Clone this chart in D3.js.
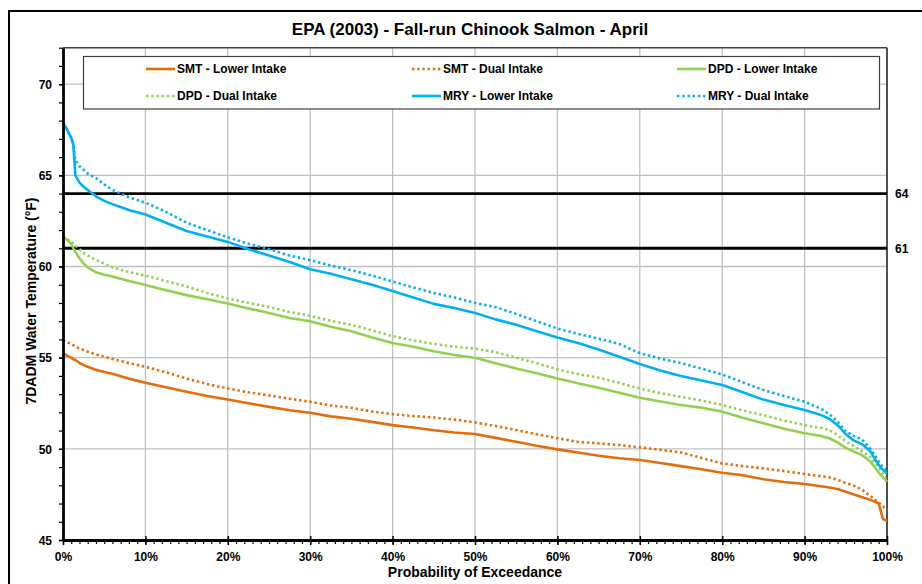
<!DOCTYPE html>
<html>
<head>
<meta charset="utf-8">
<script src="https://cdn.jsdelivr.net/npm/d3@7"></script>
<style>
  html, body { margin: 0; padding: 0; background: #fff; }
  svg text { font-family: "Liberation Sans", Arial, Helvetica, sans-serif; font-weight: bold; fill: #000; }
</style>
</head>
<body>
<svg id="chart" width="922" height="584"></svg>
<script>
// Probability of exceedance (%) shared by every series
const exceedance = [0, 0.5, 1, 1.25, 1.5, 2, 2.5, 3, 4, 5, 6, 8, 10,
  12.5, 15, 17.5, 20, 22.5, 25, 27.5, 30, 32.5, 35, 37.5, 40, 42.5, 45, 47.5, 50,
  52.5, 55, 57.5, 60, 62.5, 65, 67.5, 70, 72.5, 75, 77.5, 80, 82.5, 85, 87.5, 90,
  92, 93, 94, 95, 96, 97, 98, 99, 99.5, 100];

// 7DADM water temperature (°F)
const smtLower = [55.27, 55.1, 55.0, 54.92, 54.87, 54.72, 54.59, 54.5, 54.33, 54.22, 54.12, 53.85, 53.63,
  53.38, 53.13, 52.9, 52.71, 52.5, 52.3, 52.12, 51.98, 51.78, 51.65, 51.48, 51.3, 51.17, 51.02, 50.9, 50.81,
  50.6, 50.39, 50.17, 49.97, 49.8, 49.62, 49.48, 49.39, 49.22, 49.05, 48.88, 48.69, 48.55, 48.33, 48.18, 48.07,
  47.95, 47.88, 47.8, 47.65, 47.5, 47.35, 47.2, 47.0, 46.15, 46.05];
const smtDual = [55.95, 55.85, 55.75, 55.68, 55.62, 55.5, 55.42, 55.33, 55.18, 55.05, 54.93, 54.7, 54.5,
  54.2, 53.85, 53.55, 53.31, 53.1, 52.93, 52.75, 52.58, 52.38, 52.25, 52.05, 51.9, 51.8, 51.72, 51.6, 51.45,
  51.25, 51.03, 50.8, 50.58, 50.38, 50.3, 50.21, 50.08, 49.95, 49.8, 49.5, 49.2, 49.05, 48.93, 48.78, 48.62,
  48.5, 48.43, 48.3, 48.12, 47.98, 47.75, 47.4, 47.05, 46.85, 46.64];
const dpdLower = [61.65, 61.45, 61.25, 61.0, 60.8, 60.45, 60.17, 59.95, 59.68, 59.55, 59.45, 59.2, 58.98,
  58.7, 58.43, 58.2, 57.97, 57.7, 57.45, 57.18, 57.0, 56.7, 56.45, 56.1, 55.8, 55.6, 55.35, 55.15, 55.0,
  54.7, 54.41, 54.15, 53.86, 53.6, 53.35, 53.08, 52.8, 52.6, 52.4, 52.25, 52.04, 51.7, 51.4, 51.1, 50.85,
  50.7, 50.58, 50.35, 50.05, 49.85, 49.65, 49.3, 48.7, 48.45, 48.2];
const dpdDual = [61.65, 61.5, 61.35, 61.25, 61.15, 60.95, 60.75, 60.6, 60.35, 60.15, 59.95, 59.7, 59.5,
  59.2, 58.9, 58.55, 58.25, 58.0, 57.78, 57.5, 57.3, 57.02, 56.8, 56.5, 56.18, 55.95, 55.75, 55.6, 55.5,
  55.3, 55.0, 54.7, 54.36, 54.1, 53.9, 53.62, 53.31, 53.05, 52.85, 52.65, 52.4, 52.1, 51.85, 51.55, 51.3,
  51.15, 51.03, 50.75, 50.4, 50.15, 49.85, 49.55, 49.0, 48.6, 48.29];
const mryLower = [67.9, 67.5, 67.05, 66.7, 65.0, 64.6, 64.37, 64.2, 63.85, 63.6, 63.42, 63.1, 62.85,
  62.4, 61.95, 61.65, 61.35, 60.95, 60.6, 60.25, 59.85, 59.6, 59.3, 59.0, 58.65, 58.3, 57.95, 57.72, 57.45,
  57.1, 56.8, 56.45, 56.1, 55.8, 55.45, 55.05, 54.65, 54.3, 54.0, 53.75, 53.5, 53.1, 52.7, 52.4, 52.13,
  51.85, 51.65, 51.3, 50.8, 50.45, 50.25, 49.85, 49.1, 48.85, 48.65];
const mryDual = [67.9, 67.5, 67.05, 66.7, 65.85, 65.5, 65.3, 65.1, 64.85, 64.5, 64.2, 63.8, 63.5,
  63.0, 62.4, 62.0, 61.6, 61.25, 60.95, 60.6, 60.35, 60.05, 59.8, 59.5, 59.18, 58.85, 58.55, 58.3, 58.0,
  57.77, 57.4, 57.0, 56.6, 56.3, 56.05, 55.75, 55.25, 54.95, 54.7, 54.4, 54.08, 53.65, 53.22, 52.9, 52.58,
  52.2, 51.9, 51.5, 50.95, 50.7, 50.5, 50.0, 49.3, 49.0, 48.75];

// Temperature criteria lines
const thresholds = [64, 61];

// Axis ticks
const yMajorTicks = [45, 50, 55, 60, 65, 70];
const yMinorTicks = d3.range(45, 73, 1);
const xMajorTicks = [0, 10, 20, 30, 40, 50, 60, 70, 80, 90, 100];
const xMinorTicks = d3.range(0, 101, 1);

const seriesNames = ["SMT - Lower Intake", "SMT - Dual Intake", "DPD - Lower Intake",
  "DPD - Dual Intake", "MRY - Lower Intake", "MRY - Dual Intake"];
const seriesValues = [smtLower, smtDual, dpdLower, dpdDual, mryLower, mryDual];
const seriesColors = ["#E46C0A", "#E46C0A", "#92D050", "#92D050", "#00B0F0", "#00B0F0"];
const seriesDotted = [false, true, false, true, false, true];

const svg = d3.select("#chart");
const plot = { left: 63, right: 887, top: 47.7, bottom: 540 };

const x = d3.scaleLinear().domain([0, 100]).range([plot.left, plot.right]);
const y = d3.scaleLinear().domain([45, 72]).range([plot.bottom, plot.top]);

// Outer chart frame
svg.append("rect")
  .attr("x", 9).attr("y", 11).attr("width", 1000).attr("height", 1000)
  .attr("fill", "#fff").attr("stroke", "#000").attr("stroke-width", 2);

// Title
svg.append("text")
  .attr("x", 470).attr("y", 34.5)
  .attr("text-anchor", "middle")
  .style("font-size", "17px")
  .text("EPA (2003) - Fall-run Chinook Salmon - April");

// Gridlines
const grid = svg.append("g");
grid.selectAll("line.v").data(xMajorTicks.slice(1, -1)).join("line")
  .attr("x1", d => x(d)).attr("x2", d => x(d))
  .attr("y1", plot.top).attr("y2", plot.bottom)
  .attr("stroke", "#c0c0c0").attr("stroke-width", 1.3);
grid.selectAll("line.h").data(yMajorTicks.slice(1)).join("line")
  .attr("x1", plot.left).attr("x2", plot.right)
  .attr("y1", d => y(d)).attr("y2", d => y(d))
  .attr("stroke", "#c0c0c0").attr("stroke-width", 1.3);

// Plot top and right borders
svg.append("line")
  .attr("x1", plot.left).attr("x2", plot.right)
  .attr("y1", plot.top).attr("y2", plot.top)
  .attr("stroke", "#404040").attr("stroke-width", 1.5);
svg.append("line")
  .attr("x1", plot.right).attr("x2", plot.right)
  .attr("y1", plot.top).attr("y2", plot.bottom)
  .attr("stroke", "#505050").attr("stroke-width", 2);

// Criteria lines with labels on the right
svg.append("g").selectAll("line").data(thresholds).join("line")
  .attr("x1", plot.left).attr("x2", plot.right)
  .attr("y1", d => y(d)).attr("y2", d => y(d))
  .attr("stroke", "#000").attr("stroke-width", 2.8);
svg.append("g").selectAll("text").data(thresholds).join("text")
  .attr("x", 895).attr("y", d => y(d) + 4.5)
  .style("font-size", "12px")
  .text(d => d);

// Series lines
const line = d3.line()
  .x((d, i) => x(exceedance[i]))
  .y(d => y(d));
const series = svg.append("g");
seriesValues.forEach((vals, k) => {
  series.append("path")
    .datum(vals)
    .attr("d", line)
    .attr("fill", "none")
    .attr("stroke", seriesColors[k])
    .attr("stroke-width", 2.6)
    .attr("stroke-linejoin", "round")
    .attr("stroke-dasharray", seriesDotted[k] ? "2.4,2.8" : null);
});

// Y axis: minor ticks, then major ticks with labels
const yMinor = svg.append("g")
  .attr("transform", `translate(${plot.left},0)`)
  .call(d3.axisLeft(y).tickValues(yMinorTicks).tickSize(4).tickFormat(""));
yMinor.select(".domain").remove();
yMinor.selectAll("line").attr("stroke", "#000").attr("stroke-width", 1.2);

const yAxis = svg.append("g")
  .attr("transform", `translate(${plot.left},0)`)
  .call(d3.axisLeft(y).tickValues(yMajorTicks).tickSize(4).tickSizeOuter(0).tickPadding(7));
yAxis.select(".domain").attr("stroke", "#000").attr("stroke-width", 2.8);
yAxis.selectAll("line").attr("stroke", "#000").attr("stroke-width", 1.5);
yAxis.selectAll("text").style("font-size", "12px").attr("dy", "0.36em");

// X axis: minor ticks, then major ticks with labels
const xMinor = svg.append("g")
  .attr("transform", `translate(0,${plot.bottom})`)
  .call(d3.axisBottom(x).tickValues(xMinorTicks).tickSize(4).tickFormat(""));
xMinor.select(".domain").remove();
xMinor.selectAll("line").attr("stroke", "#000").attr("stroke-width", 1.2);

const xAxis = svg.append("g")
  .attr("transform", `translate(0,${plot.bottom})`)
  .call(d3.axisBottom(x).tickValues(xMajorTicks).tickSize(5).tickSizeOuter(0).tickPadding(7)
    .tickFormat(d => d + "%"));
xAxis.select(".domain").attr("stroke", "#000").attr("stroke-width", 3);
xAxis.selectAll("line").attr("stroke", "#000").attr("stroke-width", 1.5).attr("y1", -4);
xAxis.selectAll("text").style("font-size", "12px");

// Axis titles
svg.append("text")
  .attr("x", 475).attr("y", 577)
  .attr("text-anchor", "middle")
  .style("font-size", "14px")
  .text("Probability of Exceedance");
svg.append("text")
  .attr("transform", "translate(36,301) rotate(-90)")
  .attr("text-anchor", "middle")
  .style("font-size", "14px")
  .text("7DADM Water Temperature (°F)");

// Legend
const legend = svg.append("g");
legend.append("rect")
  .attr("x", 83.5).attr("y", 56.5).attr("width", 796).attr("height", 52.5)
  .attr("fill", "#fff").attr("stroke", "#404040").attr("stroke-width", 1.2);
const legendCols = [146, 412, 677];
const legendRows = [69, 96];
seriesNames.forEach((name, k) => {
  const cx = legendCols[k % 3];
  const cy = legendRows[Math.floor(k / 3)];
  legend.append("line")
    .attr("x1", cx).attr("x2", cx + 29)
    .attr("y1", cy).attr("y2", cy)
    .attr("stroke", seriesColors[k])
    .attr("stroke-width", 2.6)
    .attr("stroke-dasharray", seriesDotted[k] ? "2.4,2.8" : null);
  legend.append("text")
    .attr("x", cx + 31).attr("y", cy + 4.3)
    .style("font-size", "12px")
    .text(name);
});
</script>
</body>
</html>
